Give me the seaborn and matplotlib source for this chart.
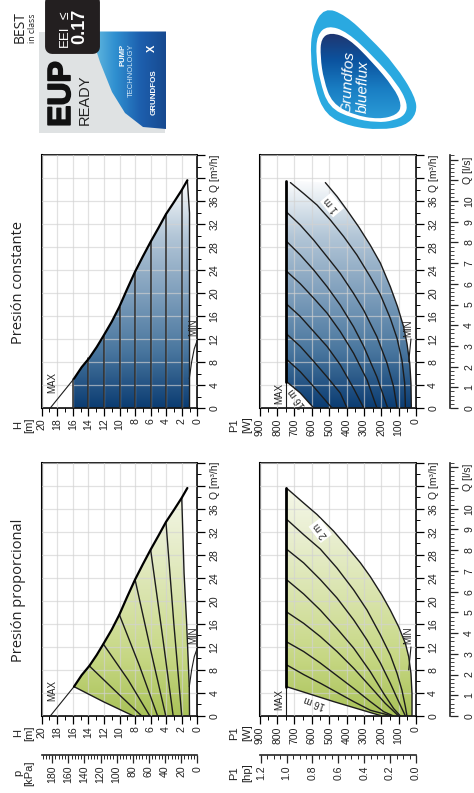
import numpy as np
import matplotlib
matplotlib.use("Agg")
import matplotlib.pyplot as plt
import matplotlib.patheffects as pe
from matplotlib.colors import LinearSegmentedColormap
from matplotlib.patches import FancyBboxPatch, PathPatch, Polygon, Rectangle
from matplotlib.path import Path
from matplotlib.ticker import MultipleLocator
import seaborn as sns

W, H = 474, 793

# max curve, H [m] against Q [m3/h]
MAX_H = [18.9, 15.85, 14.86, 13.88, 12.93, 12.08, 11.0, 10.02, 9.08, 8.0, 7.02, 6.0, 5.0, 4.03, 3.0, 2.0, 1.28]
MAX_Q = [0.0, 5.1, 7.1, 8.7, 10.6, 12.5, 15.0, 17.6, 20.5, 23.7, 26.3, 28.9, 31.3, 33.7, 35.8, 37.9, 39.6]
MIN_H = [1.03, 0.73, 0.39, 0.0]
MIN_Q = [5.1, 8.0, 10.3, 11.8]

# proportional pressure curves, top curve first
PROP_H = [
    [8.2, 12.1, 15.85],
    [7.15, 10.5, 13.88],
    [6.1, 8.9, 12.08],
    [5.1, 7.4, 10.02],
    [4.05, 5.9, 8.0],
    [3.1, 4.4, 6.0],
    [2.0, 3.0, 4.03],
    [1.0, 1.03, 1.37, 1.7, 2.0],
]
PROP_Q = [
    [0.0, 2.5, 5.1],
    [0.0, 4.3, 8.7],
    [0.0, 6.3, 12.5],
    [0.0, 8.6, 17.6],
    [0.0, 10.9, 23.7],
    [0.0, 13.2, 28.9],
    [0.0, 15.8, 33.7],
    [0.0, 5.1, 16.1, 24.8, 37.9],
]

# constant pressure lines
CONST_H = [16, 14, 12, 10, 8, 6, 4, 2]
CONST_TOP_Q = [5.1, 8.7, 12.5, 17.6, 23.7, 28.9, 33.7, 37.9]
CONST_EDGE_H = [1.28, 1.0, 1.0]
CONST_EDGE_Q = [39.6, 33.9, 0.0]

# power curves for proportional pressure, 16 m first
PP_P = [
    [746, 474, 196],
    [746, 647, 551, 455, 359, 263, 138],
    [746, 647, 551, 455, 359, 263, 186, 129],
    [746, 647, 551, 455, 359, 263, 177, 100],
    [746, 647, 551, 455, 359, 263, 186, 129, 90],
    [746, 647, 551, 455, 359, 282, 205, 148, 100, 61],
    [746, 647, 551, 455, 359, 282, 205, 148, 109, 81, 61, 52],
    [746, 647, 570, 474, 397, 320, 263, 196, 148, 100, 61, 42, 29, 23, 23],
]
PP_Q = [
    [5.1, 2.5, 0.0],
    [8.9, 7.2, 5.7, 4.1, 2.5, 1.0, 0.0],
    [12.9, 11.2, 9.2, 7.0, 4.8, 2.5, 0.75, 0.0],
    [18.1, 16.1, 13.8, 11.2, 8.3, 5.1, 2.2, 0.0],
    [23.7, 21.2, 18.4, 15.2, 11.8, 7.7, 3.9, 1.3, 0.0],
    [29.0, 26.6, 23.7, 20.5, 16.7, 13.2, 9.2, 5.7, 2.5, 0.0],
    [34.2, 31.5, 29.0, 25.7, 21.9, 18.4, 14.1, 10.6, 7.4, 4.5, 1.6, 0.0],
    [39.6, 37.0, 35.0, 32.1, 29.4, 26.6, 24.2, 21.0, 18.4, 15.5, 12.6, 10.3, 7.4, 3.9, 0.0],
]

# power curves for constant pressure, 16 m first
PC_P = [
    [746, 666, 589],
    [746, 666, 589, 484],
    [746, 666, 589, 512, 436, 397],
    [746, 666, 589, 512, 436, 359, 301],
    [746, 666, 589, 512, 436, 359, 282, 225],
    [746, 666, 589, 512, 436, 359, 301, 225, 163],
    [746, 666, 589, 512, 436, 359, 301, 225, 167, 129, 109],
    [723, 647, 570, 493, 416, 340, 263, 205, 148, 109, 81, 65, 61],
    [522, 455, 397, 330, 263, 205, 148, 106, 71, 52, 36, 29, 27],
]
PC_Q = [
    [4.6, 2.6, 0.0],
    [8.5, 6.3, 3.7, 0.0],
    [12.9, 10.7, 8.1, 5.4, 2.6, 0.0],
    [18.1, 15.9, 13.3, 10.7, 7.5, 3.4, 0.0],
    [23.8, 21.6, 19.1, 16.5, 13.3, 9.5, 4.9, 0.0],
    [29.0, 26.6, 24.0, 21.1, 17.9, 14.1, 10.7, 5.4, 0.0],
    [34.1, 31.8, 29.2, 26.3, 23.4, 19.9, 17.0, 12.4, 7.8, 3.7, 0.0],
    [39.2, 37.3, 35.3, 32.7, 29.8, 26.6, 22.8, 19.7, 15.6, 12.1, 8.3, 4.3, 0.0],
    [39.2, 36.8, 34.4, 31.5, 28.3, 25.2, 21.1, 17.6, 14.1, 11.2, 7.8, 4.3, 0.0],
]
P_MAX = 746
P_MIN_P = [42, 29]
P_MIN_Q = [8.0, 12.0]

H_TICKS = list(range(0, 21, 2))
P_TICKS = list(range(0, 901, 100))
Q_TICKS = list(range(0, 37, 4))
KPA_TICKS = list(range(0, 181, 20))
HP_TICKS = [0.0, 0.2, 0.4, 0.6, 0.8, 1.0, 1.2]
LS_TICKS = list(range(0, 11))

GREENS = ["#a9c258", "#c6d783", "#d8e3aa", "#e7edcc", "#f6f8ea"]
BLUES = ["#0b3c72", "#4a779f", "#7f9fbc", "#b3c6d7", "#ffffff"]

LINE = "#1c1c1c"
TEXT = "#222222"

sns.set_theme(style="ticks")
plt.rcParams["font.family"] = ["Liberation Sans", "DejaVu Sans"]

fig = plt.figure(figsize=(W / 100, H / 100), dpi=100)
bg = fig.add_axes([0, 0, 1, 1], zorder=0)
bg.set_xlim(0, W)
bg.set_ylim(H, 0)
bg.axis("off")


def px_axes(left, top, right, bottom):
    return fig.add_axes(
        [left / W, 1 - bottom / H, (right - left) / W, (bottom - top) / H], zorder=2
    )


def curve(ax, x, y, lw=1.0, color=LINE):
    sns.lineplot(x=x, y=y, sort=False, estimator=None, ax=ax, color=color,
                 linewidth=lw, legend=False, zorder=3)


def gradient(ax, verts, colors, extent):
    cmap = LinearSegmentedColormap.from_list("fill", colors)
    img = ax.imshow(np.linspace(0, 1, 256).reshape(-1, 1), origin="lower", cmap=cmap,
                    extent=extent, aspect="auto", zorder=1)
    img.set_clip_path(Polygon(verts, closed=True, transform=ax.transData))


def style_panel(ax, xmax, xmaj, xmin, xticks):
    ax.set_xlim(xmax, 0)
    ax.set_ylim(0, 44)
    ax.xaxis.set_major_locator(MultipleLocator(xmaj))
    ax.xaxis.set_minor_locator(MultipleLocator(xmin))
    ax.yaxis.set_major_locator(MultipleLocator(4))
    ax.yaxis.set_minor_locator(MultipleLocator(2))
    ax.yaxis.tick_right()
    ax.set_xticks(xticks)
    ax.set_xticklabels([str(v) for v in xticks], rotation=90, fontsize=7.6, color=TEXT)
    ax.set_yticks(list(range(0, 45, 4)))
    ax.set_yticklabels([str(v) if v in Q_TICKS else "" for v in range(0, 45, 4)],
                       rotation=90, va="center", fontsize=7.6, color=TEXT)
    ax.tick_params(axis="x", which="major", length=5.8, width=0.9, pad=1.5, color="black")
    ax.tick_params(axis="x", which="minor", length=2.8, width=0.7, color="black")
    ax.tick_params(axis="y", which="major", length=5.8, width=0.9, pad=3, color="black")
    ax.tick_params(axis="y", which="minor", length=2.8, width=0.7, color="black")
    ax.set_axisbelow(False)
    ax.grid(True, which="major", color="#d2d2d2", linewidth=0.9, alpha=0.65)
    for s in ax.spines.values():
        s.set_linewidth(1.2)
        s.set_color("black")
    ax.spines["left"].set_linewidth(1.5)


def label(ax, x, y, txt, rot=90, size=7, box=False):
    kw = {}
    if box:
        kw["bbox"] = dict(facecolor="white", edgecolor="none", pad=1.5)
    ax.text(x, y, txt, rotation=rot, rotation_mode="anchor", ha="center", va="center",
            fontsize=size, color=TEXT, zorder=4, **kw)


def q_labels(x, y):
    bg.text(x, y, "Q [m³/h]", rotation=90, ha="center", va="bottom", fontsize=7.4, color=TEXT)


def draw_head(ax):
    curve(ax, MAX_H[:2], MAX_Q[:2], lw=0.8)
    curve(ax, MAX_H[1:], MAX_Q[1:], lw=1.6, color="black")
    curve(ax, MIN_H, MIN_Q, lw=0.8)
    label(ax, 18.7, 4.4, "MAX")
    label(ax, 0.55, 14.1, "MIN")


# proportional pressure, head
ax1 = px_axes(41.7, 462.7, 197.3, 716)
fill = list(zip(MAX_H[1:-1], MAX_Q[1:-1])) + list(zip(PROP_H[7][::-1], PROP_Q[7][::-1])) \
    + list(zip(PROP_H[0], PROP_Q[0]))
gradient(ax1, fill, GREENS, [0, 20, 0, 40])
for hs, qs in zip(PROP_H, PROP_Q):
    curve(ax1, hs, qs)
draw_head(ax1)
style_panel(ax1, 20, 2, 1, H_TICKS)
kpa = ax1.secondary_xaxis(-0.154, functions=(lambda v: v * 9.65, lambda v: v / 9.65))
kpa.set_xticks(KPA_TICKS)
kpa.set_xticklabels([str(v) for v in KPA_TICKS], rotation=90, fontsize=7.6, color=TEXT)
kpa.xaxis.set_minor_locator(MultipleLocator(4))
kpa.tick_params(axis="x", which="major", length=5.8, width=0.9, pad=2)
kpa.tick_params(axis="x", which="minor", length=2.8, width=0.7)
kpa.spines["bottom"].set_linewidth(1.2)

# constant pressure, head
ax3 = px_axes(41.7, 155, 197.3, 408)
fill = list(zip(MAX_H[1:], MAX_Q[1:])) + list(zip(CONST_EDGE_H, CONST_EDGE_Q)) + [(CONST_H[0], 0.0)]
gradient(ax3, fill, BLUES, [0, 20, 0, 40])
for h_val, top in zip(CONST_H, CONST_TOP_Q):
    curve(ax3, [h_val, h_val], [0.0, top], lw=1.1, color="#2a2a2a")
curve(ax3, CONST_EDGE_H, CONST_EDGE_Q)
draw_head(ax3)
style_panel(ax3, 20, 2, 1, H_TICKS)

# proportional pressure, power
ax2 = px_axes(259.7, 462.7, 416, 716)
fill = [(PP_P[0][0], PP_Q[0][0])] + list(zip(PP_P[7], PP_Q[7])) \
    + list(zip(PP_P[0][::-1], PP_Q[0][::-1]))
gradient(ax2, fill, GREENS, [0, 900, 0, 40])
for ps, qs in zip(PP_P, PP_Q):
    curve(ax2, ps, qs, lw=1.0)
curve(ax2, [P_MAX, P_MAX], [0.0, 5.1], lw=0.8)
curve(ax2, [P_MAX, P_MAX], [5.1, 39.6], lw=2.0, color="black")
curve(ax2, P_MIN_P, P_MIN_Q, lw=0.8)
label(ax2, 790, 2.8, "MAX")
label(ax2, 42, 14.1, "MIN")
label(ax2, 585, 2.5, "16 m", rot=160)
label(ax2, 551, 32.2, "2 m", rot=127, box=True)
style_panel(ax2, 900, 100, 50, P_TICKS)
hp = ax2.secondary_xaxis(-0.154, functions=(lambda v: v / 745, lambda v: v * 745))
hp.set_xticks(HP_TICKS)
hp.set_xticklabels([f"{v:.1f}" for v in HP_TICKS], rotation=90, fontsize=7.6, color=TEXT)
hp.xaxis.set_minor_locator(MultipleLocator(0.05))
hp.tick_params(axis="x", which="major", length=5.8, width=0.9, pad=2)
hp.tick_params(axis="x", which="minor", length=2.8, width=0.7)
hp.spines["bottom"].set_linewidth(1.2)

# constant pressure, power
ax4 = px_axes(259.7, 155, 416, 408)
fill = [(P_MAX, 39.6)] + list(zip(PC_P[8], PC_Q[8])) + list(zip(PC_P[0][::-1], PC_Q[0][::-1]))
gradient(ax4, fill, BLUES, [0, 900, 0, 40])
for ps, qs in zip(PC_P, PC_Q):
    curve(ax4, ps, qs, lw=1.0)
curve(ax4, [P_MAX, P_MAX], [0.0, 4.6], lw=0.8)
curve(ax4, [P_MAX, P_MAX], [4.6, 39.4], lw=2.0, color="black")
curve(ax4, P_MIN_P, P_MIN_Q, lw=0.8)
label(ax4, 790, 2.5, "MAX")
label(ax4, 42, 13.8, "MIN")
label(ax4, 687, 1.8, "16 m", rot=127)
label(ax4, 484, 35.3, "1 m", rot=130, box=True)
style_panel(ax4, 900, 100, 50, P_TICKS)

# l/s scale next to the power panels
for ax in (ax2, ax4):
    ls = ax.secondary_yaxis(1.2195, functions=(lambda v: v / 3.6, lambda v: v * 3.6))
    ls.set_yticks(list(range(0, 13)))
    ls.set_yticklabels([str(v) if v in LS_TICKS else "" for v in range(0, 13)],
                       rotation=90, va="center", fontsize=7.6, color=TEXT)
    ls.yaxis.set_minor_locator(MultipleLocator(0.2))
    ls.tick_params(axis="y", which="major", length=5.5, width=0.9, pad=4.5)
    ls.tick_params(axis="y", which="minor", length=3, width=0.6)
    ls.spines["right"].set_linewidth(1.2)

# axis names
q_labels(215, 499)
q_labels(215, 191.5)
q_labels(433.7, 499)
q_labels(433.7, 191.5)
for y in (491, 183.5):
    bg.text(468, y, "Q [l/s]", rotation=90, ha="center", va="bottom", fontsize=7.6, color=TEXT)


def two_line(x1, x2, y, a, b):
    bg.text(x1, y, a, rotation=90, ha="center", va="center", fontsize=8, color=TEXT)
    bg.text(x2, y, b, rotation=90, ha="center", va="center", fontsize=8, color=TEXT)


two_line(18, 29, 733, "H", "[m]")
two_line(18, 29, 773, "p", "[kPa]")
two_line(18, 29, 425, "H", "[m]")
two_line(234, 247, 733, "P1", "[W]")
two_line(234, 247, 773, "P1", "[hp]")
two_line(234, 247, 425, "P1", "[W]")

titles = [(590.5, "Presión proporcional"), (282, "Presión constante")]
for y, t in titles:
    bg.text(19, y, t, rotation=90, ha="center", va="center", fontsize=10.5,
            family="Open Sans", color=TEXT)

# EUP badge
badge = Rectangle((39.5, 31.5), 126, 101, facecolor="#dfe2e3", edgecolor="none")
bg.add_patch(badge)
blue_cmap = LinearSegmentedColormap.from_list("b", ["#6cc0e2", "#2f8fd0", "#1d5fae", "#174a90"])
img = bg.imshow(np.linspace(0, 1, 128).reshape(1, -1), cmap=blue_cmap,
                extent=[90, 166, 133, 31.5], aspect="auto", zorder=1)
wave = Polygon([(90, 31.5), (100, 62), (112, 92), (125, 113), (143, 127), (166, 129), (166, 31.5)],
               closed=True, transform=bg.transData)
img.set_clip_path(wave)
bg.set_xlim(0, W)
bg.set_ylim(H, 0)
bg.add_patch(FancyBboxPatch((52, 2), 41, 45, boxstyle="round,pad=0,rounding_size=0.1",
                            facecolor="#231f20", edgecolor="#231f20", linewidth=10,
                            joinstyle="round", zorder=3))
bg.text(65, 36, "EEI", rotation=90, ha="center", va="center", fontsize=9.5, color="white", zorder=4)
bg.text(65, 15, "≤", rotation=90, ha="center", va="center", fontsize=10, color="white", zorder=4)
bg.text(80, 26.5, "0.17", rotation=90, ha="center", va="center", fontsize=13, weight="bold",
        color="white", zorder=4)
bg.text(20, 27, "BEST", rotation=90, ha="center", va="center", fontsize=10,
        family="Open Sans", color=TEXT)
bg.text(33, 28, "in class", rotation=90, ha="center", va="center", fontsize=6.2,
        family="Open Sans", color=TEXT)
eup = bg.text(62, 94, "EUP", rotation=90, ha="center", va="center", fontsize=23, weight="bold",
              color="#111111", zorder=4)
eup.set_path_effects([pe.withStroke(linewidth=1.2, foreground="#111111")])
bg.text(85, 100, "READY", rotation=90, ha="center", va="center", fontsize=10.5, color="#222222", zorder=4)
bg.text(123, 55, "PUMP", rotation=90, ha="center", va="center", fontsize=5.5, weight="bold",
        color="white", zorder=4)
bg.text(131.5, 70, "TECHNOLOGY", rotation=90, ha="center", va="center", fontsize=5.5,
        color="#cfe6f5", zorder=4)
bg.text(154, 92, "GRUNDFOS", rotation=90, ha="center", va="center", fontsize=5.8, weight="bold",
        color="white", zorder=4)
bg.text(152, 48, "X", rotation=90, ha="center", va="center", fontsize=8, weight="bold",
        color="white", zorder=4)


# blueflux logo, control points
def blob(points):
    pts = [(237 + x / 3, y / 3) for x, y in points]
    verts, codes = [], []
    n = len(pts)
    first = ((pts[-1][0] + pts[0][0]) / 2, (pts[-1][1] + pts[0][1]) / 2)
    verts.append(first)
    codes.append(Path.MOVETO)
    for i in range(n):
        nxt = pts[(i + 1) % n]
        mid = ((pts[i][0] + nxt[0]) / 2, (pts[i][1] + nxt[1]) / 2)
        verts += [pts[i], mid]
        codes += [Path.CURVE3, Path.CURVE3]
    return Path(verts, codes)


OUTER = [(262, 22), (325, 45), (400, 115), (475, 195), (535, 290), (540, 340), (505, 378), (430, 390),
         (340, 380), (265, 345), (232, 260), (220, 170), (225, 85)]
RING = [(272, 76), (330, 95), (410, 170), (480, 250), (512, 310), (505, 345), (470, 362), (420, 368),
        (345, 355), (275, 322), (248, 240), (237, 170), (240, 105)]
CORE = [(282, 97), (335, 115), (405, 185), (470, 262), (495, 315), (480, 345), (425, 358), (350, 345),
        (285, 310), (260, 240), (250, 170), (252, 115)]

bg.add_patch(PathPatch(blob(OUTER), facecolor="#2aa9e0", edgecolor="none", zorder=1))
bg.add_patch(PathPatch(blob(RING), facecolor="white", edgecolor="none", zorder=2))
logo_cmap = LinearSegmentedColormap.from_list("l", ["#22326a", "#0b539f", "#1a7fc4", "#2b9cd8"])
core = bg.imshow(np.linspace(0, 1, 128).reshape(-1, 1), cmap=logo_cmap,
                 extent=[310, 410, 120, 30], aspect="auto", zorder=3)
core.set_clip_path(PathPatch(blob(CORE), transform=bg.transData))
bg.set_xlim(0, W)
bg.set_ylim(H, 0)
bg.text(348, 82, "Grundfos", rotation=87, ha="center", va="center", fontsize=11, style="italic",
        color="white", zorder=4)
bg.text(363, 87, "blueflux", rotation=89, ha="center", va="center", fontsize=11, style="italic",
        color="white", zorder=4)

fig.savefig("out.png", dpi=100)
